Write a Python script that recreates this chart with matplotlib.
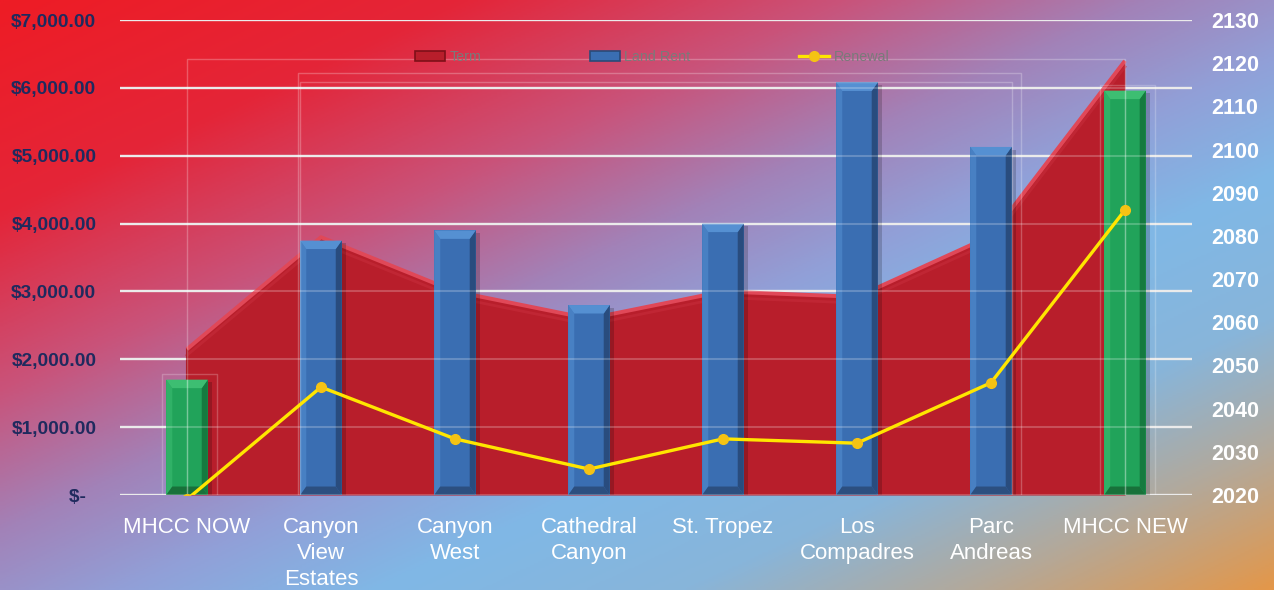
import numpy as np
import matplotlib
matplotlib.use("Agg")
import matplotlib.pyplot as plt
from matplotlib.colors import LinearSegmentedColormap
from matplotlib.patches import Rectangle, Polygon, Patch
from matplotlib.lines import Line2D

# ---------------- data ----------------
categories = ["MHCC NOW", "Canyon\nView\nEstates", "Canyon\nWest", "Cathedral\nCanyon",
              "St. Tropez", "Los\nCompadres", "Parc\nAndreas", "MHCC NEW"]
term = [2150, 3800, 3000, 2600, 3000, 2920, 3820, 6400]
land_rent = [1700, 3750, 3900, 2800, 4000, 6080, 5130, 5960]
renewal = [2019, 2045, 2033, 2026, 2033, 2032, 2046, 2086]
green_idx = [0, 7]

left_ticks = [0, 1000, 2000, 3000, 4000, 5000, 6000, 7000]
left_labels = ["$-  ", "$1,000.00", "$2,000.00", "$3,000.00", "$4,000.00",
               "$5,000.00", "$6,000.00", "$7,000.00"]
right_ticks = [2020, 2030, 2040, 2050, 2060, 2070, 2080, 2090, 2100, 2110, 2120, 2130]
legend_labels = ["Term", "Land Rent", "Renewal"]

FONT = "Liberation Sans"

fig = plt.figure(figsize=(12.74, 5.90), dpi=100)

# ---------------- background gradient ----------------
bg = fig.add_axes([0, 0, 1, 1])
bg.set_zorder(-10)
X, Y = np.meshgrid(np.linspace(0, 1, 640), np.linspace(0, 1, 300))
t = (X + Y) / 2.0
stops = [(0.0, "#EE1C25"), (0.18, "#E42538"), (0.33, "#C9537A"), (0.45, "#A282B8"),
         (0.55, "#91A0D8"), (0.65, "#80B8E6"), (0.77, "#88B5DA"), (0.88, "#B2A99C"),
         (1.0, "#E3974A")]
cmap = LinearSegmentedColormap.from_list("bg", stops)
bg.imshow(t, extent=[0, 1, 0, 1], origin="upper", aspect="auto", cmap=cmap, vmin=0, vmax=1,
          interpolation="bilinear")
bg.set_xlim(0, 1); bg.set_ylim(0, 1)
bg.axis("off")

# ---------------- main axes ----------------
ax = fig.add_axes([0.0942, 0.161, 0.8414, 0.805])
ax.set_facecolor("none")
x = np.arange(len(categories))
ax.set_xlim(-0.5, len(categories) - 0.5)
ax.set_ylim(left_ticks[0], left_ticks[-1])
for s in ax.spines.values():
    s.set_visible(False)

# gridlines behind
for v in left_ticks:
    ax.axhline(v, color="#E6E6E6", lw=1.7, zorder=0.5)

# Term area
ax.fill_between(x, 0, term, color="#B81E2B", lw=0, zorder=1)
ax.plot(x, term, color="#E04858", lw=2.8, zorder=1.2, solid_capstyle="butt")
ax.plot(x, np.array(term) - 90, color="#C42A38", lw=2.0, zorder=1.1, alpha=0.7)
ax.plot([x[0], x[0]], [0, term[0]], color="#A8141F", lw=1.5, zorder=1.1)

# faint bounding boxes (rendering artefacts in the reference)
def faint_box(x0, x1, y1, z=5):
    ax.plot([x0, x0, x1, x1], [0, y1, y1, 0], color="white", lw=1.0, alpha=0.25, zorder=z)

faint_box(x[0], x[-1], max(term) + 20)

# 3D-ish bars
w = 0.31
bx = 0.045
by = 125
def bevel_bar(xc, h, base, light, dark, shade):
    l, r = xc - w / 2, xc + w / 2
    ax.add_patch(Rectangle((l + 0.01, 0), w + 0.025, h - 40, color="black", alpha=0.18, lw=0, zorder=1.8))
    ax.add_patch(Rectangle((l, 0), w, h, color=base, lw=0, zorder=2))
    ax.add_patch(Polygon([(r, 0), (r, h), (r - bx, h - by), (r - bx, by)], color=dark, lw=0, zorder=2.1))
    ax.add_patch(Polygon([(l, 0), (l, h), (l + bx, h - by), (l + bx, by)], color=light, lw=0,
                         alpha=0.55, zorder=2.1))
    ax.add_patch(Polygon([(l, h), (r, h), (r - bx, h - by), (l + bx, h - by)], color=light, lw=0, zorder=2.2))
    ax.add_patch(Polygon([(l, 0), (r, 0), (r - bx, by), (l + bx, by)], color=shade, lw=0, zorder=2.2))

for i, (xc, h) in enumerate(zip(x, land_rent)):
    if i in green_idx:
        bevel_bar(xc, h, "#21A35A", "#3DBE72", "#157A3F", "#18713A")
        ax.plot([xc - w / 2 - 0.03, xc - w / 2 - 0.03, xc + w / 2 + 0.07, xc + w / 2 + 0.07],
                [0, h + 90, h + 90, 0], color="white", lw=1.0, alpha=0.22, zorder=5)
        ax.plot([xc, xc], [0, h], color="white", lw=1.0, alpha=0.2, zorder=5)
    else:
        bevel_bar(xc, h, "#3A6EB2", "#5590D2", "#294C7E", "#2C4F80")

blue = [i for i in range(len(x)) if i not in green_idx]
bl = x[blue[0]] - w / 2
br = x[blue[-1]] + w / 2
top = max(land_rent[i] for i in blue)
faint_box(bl, br, top)
faint_box(bl - 0.02, br + 0.07, top + 140)

# gridlines overlaid faintly
for v in left_ticks:
    ax.axhline(v, color="white", lw=1.5, alpha=0.22, zorder=4)

ax.set_yticks(left_ticks)
ax.set_yticklabels(left_labels, fontfamily=FONT, fontweight="bold", fontsize=13.8, color="#1F2A5E")
ax.set_xticks(x)
ax.set_xticklabels(categories, fontfamily=FONT, fontsize=16, color="white", linespacing=1.32)
ax.tick_params(axis="y", length=0, pad=17)
ax.tick_params(axis="x", length=0, pad=16)

# ---------------- secondary axis ----------------
ax2 = ax.twinx()
ax2.set_ylim(right_ticks[0], right_ticks[-1])
for s in ax2.spines.values():
    s.set_visible(False)
ax2.set_yticks(right_ticks)
ax2.set_yticklabels([str(v) for v in right_ticks], fontfamily=FONT, fontweight="bold",
                    fontsize=15.5, color="white")
ax2.tick_params(axis="y", length=0, pad=14)
ax2.plot(x, renewal, color="#FFE600", lw=2.4, zorder=6, marker="o", markersize=7,
         markerfacecolor="#F5C314", markeredgecolor="#F5C314")

# ---------------- legend ----------------
handles = [Patch(facecolor="#B81E2B", edgecolor="#7E1018", lw=1.2),
           Patch(facecolor="#3A6EB2", edgecolor="#2A4A78", lw=1.2),
           Line2D([0], [0], color="#FFE600", lw=2.4, marker="o", markersize=7,
                  markerfacecolor="#F5C314", markeredgecolor="#F5C314")]
leg = fig.legend(handles, legend_labels, loc="center", bbox_to_anchor=(0.512, 0.903), ncol=3,
                 frameon=False, columnspacing=7.6, handlelength=2.1, handletextpad=0.3,
                 prop=dict(family=FONT, size=10.3))
for txt in leg.get_texts():
    txt.set_color("#7A7A7A")

fig.savefig("out.png", dpi=100)
